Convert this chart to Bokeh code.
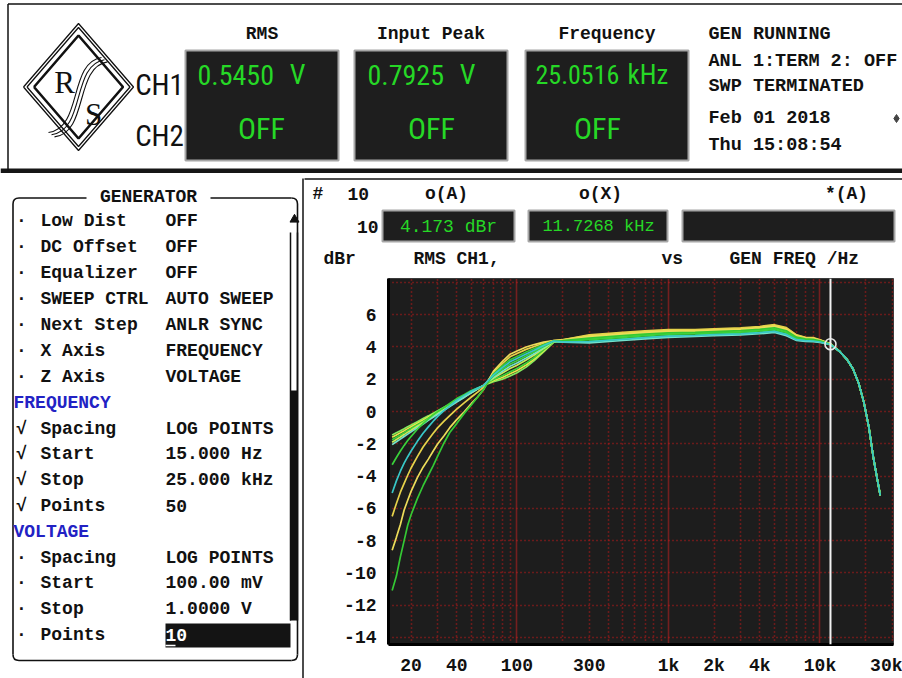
from bokeh.plotting import figure
from bokeh.models import Range1d, FixedTicker, Grid, Span
from bokeh.layouts import column, row
from bokeh.embed import file_html
from bokeh.resources import INLINE
from bokeh.core.properties import value

FREQ_HZ = [15, 16, 17, 18, 19, 20, 22, 24, 26, 28, 30, 33, 36, 40, 45, 50, 55, 60,
           70, 80, 90, 100, 115, 130, 150, 175,
           200, 300, 500, 700, 1000, 1500, 2000, 3000, 4000, 5000, 6000, 7000, 8000, 9000, 10000, 11700,
           13500, 15000, 16500, 18000, 19500, 21000, 22500, 24000, 25000]

TRACE_A = [-1.45, -1.31, -1.19, -1.07, -0.94, -0.84, -0.63, -0.44, -0.27, -0.10, 0.05, 0.26, 0.45, 0.69, 0.95, 1.20, 1.42, 1.62,
           1.85, 2.00, 2.20, 2.40, 2.75, 3.15, 3.70, 4.30,
           4.38, 4.50, 4.65, 4.75, 4.84, 4.86, 4.91, 4.97, 5.05, 5.14, 4.95, 4.58, 4.48, 4.46, 4.37, 4.18,
           3.72, 3.25, 2.65, 1.75, 0.55, -0.95, -2.85, -4.30, -5.20]
TRACE_B = [-1.60, -1.45, -1.32, -1.19, -1.06, -0.94, -0.73, -0.53, -0.34, -0.17, -0.01, 0.21, 0.41, 0.66, 0.94, 1.19, 1.41, 1.61,
           1.92, 2.11, 2.34, 2.54, 2.88, 3.25, 3.76, 4.31,
           4.44, 4.70, 4.85, 4.95, 5.02, 5.03, 5.08, 5.14, 5.23, 5.33, 5.15, 4.72, 4.58, 4.56, 4.43, 4.20,
           3.72, 3.25, 2.65, 1.75, 0.55, -0.95, -2.85, -4.30, -5.20]
TRACE_C = [-1.75, -1.59, -1.45, -1.31, -1.17, -1.05, -0.82, -0.61, -0.41, -0.23, -0.06, 0.17, 0.38, 0.64, 0.92, 1.18, 1.41, 1.62,
           1.98, 2.22, 2.47, 2.67, 3.00, 3.35, 3.82, 4.32,
           4.33, 4.35, 4.50, 4.60, 4.69, 4.73, 4.78, 4.84, 4.91, 5.00, 4.80, 4.47, 4.40, 4.38, 4.31, 4.16,
           3.72, 3.25, 2.65, 1.75, 0.55, -0.95, -2.85, -4.30, -5.20]
TRACE_D = [-1.90, -1.73, -1.58, -1.43, -1.28, -1.16, -0.91, -0.69, -0.48, -0.29, -0.11, 0.13, 0.35, 0.62, 0.90, 1.17, 1.41, 1.62,
           2.08, 2.39, 2.67, 2.87, 3.19, 3.50, 3.91, 4.34,
           4.41, 4.60, 4.75, 4.85, 4.93, 4.94, 4.99, 5.05, 5.14, 5.24, 5.05, 4.65, 4.53, 4.51, 4.40, 4.19,
           3.72, 3.25, 2.65, 1.75, 0.55, -0.95, -2.85, -4.30, -5.20]
TRACE_E = [-2.05, -1.87, -1.71, -1.55, -1.40, -1.26, -1.01, -0.78, -0.55, -0.36, -0.17, 0.08, 0.31, 0.59, 0.89, 1.16, 1.40, 1.62,
           2.14, 2.50, 2.81, 3.01, 3.31, 3.60, 3.97, 4.35,
           4.30, 4.25, 4.40, 4.50, 4.60, 4.65, 4.70, 4.75, 4.82, 4.90, 4.70, 4.40, 4.35, 4.33, 4.28, 4.15,
           3.72, 3.25, 2.65, 1.75, 0.55, -0.95, -2.85, -4.30, -5.20]
TRACE_F = [-3.30, -2.85, -2.45, -2.10, -1.80, -1.55, -1.10, -0.75, -0.45, -0.20, 0.00, 0.25, 0.50, 0.80, 1.05, 1.30, 1.45, 1.60,
           2.21, 2.61, 2.94, 3.14, 3.44, 3.70, 4.03, 4.36,
           4.36, 4.45, 4.60, 4.70, 4.79, 4.82, 4.87, 4.92, 5.00, 5.09, 4.90, 4.54, 4.45, 4.43, 4.35, 4.17,
           3.72, 3.25, 2.65, 1.75, 0.55, -0.95, -2.85, -4.30, -5.20]
TRACE_G = [-5.05, -4.30, -3.70, -3.20, -2.80, -2.45, -1.85, -1.35, -0.95, -0.60, -0.30, 0.05, 0.35, 0.70, 1.00, 1.25, 1.45, 1.60,
           2.27, 2.72, 3.08, 3.28, 3.56, 3.80, 4.09, 4.37,
           4.32, 4.33, 4.48, 4.58, 4.67, 4.71, 4.76, 4.81, 4.89, 4.97, 4.78, 4.45, 4.39, 4.37, 4.31, 4.17,
           3.72, 3.25, 2.65, 1.75, 0.55, -0.95, -2.85, -4.30, -5.20]
TRACE_H = [-6.50, -5.70, -5.00, -4.45, -3.95, -3.50, -2.80, -2.20, -1.75, -1.35, -1.00, -0.60, -0.25, 0.15, 0.55, 0.90, 1.20, 1.50,
           2.42, 2.97, 3.39, 3.59, 3.85, 4.03, 4.23, 4.39,
           4.45, 4.75, 4.90, 5.00, 5.07, 5.07, 5.12, 5.18, 5.27, 5.38, 5.20, 4.75, 4.60, 4.58, 4.45, 4.20,
           3.72, 3.25, 2.65, 1.75, 0.55, -0.95, -2.85, -4.30, -5.20]
TRACE_I = [-8.60, -7.80, -7.00, -6.10, -5.50, -4.95, -4.10, -3.45, -2.95, -2.45, -2.00, -1.50, -1.00, -0.50, 0.00, 0.50, 0.90, 1.35,
           2.50, 3.10, 3.55, 3.75, 4.00, 4.15, 4.30, 4.40,
           4.42, 4.65, 4.80, 4.90, 4.98, 4.99, 5.04, 5.09, 5.18, 5.28, 5.10, 4.68, 4.55, 4.53, 4.42, 4.19,
           3.72, 3.25, 2.65, 1.75, 0.55, -0.95, -2.85, -4.30, -5.20]
TRACE_J = [-11.10, -10.20, -9.00, -8.00, -7.05, -6.40, -5.40, -4.60, -3.95, -3.35, -2.75, -1.95, -1.30, -0.75, -0.10, 0.40, 0.90, 1.35,
           2.34, 2.83, 3.21, 3.41, 3.69, 3.90, 4.15, 4.38,
           4.39, 4.55, 4.70, 4.80, 4.88, 4.90, 4.95, 5.01, 5.09, 5.19, 5.00, 4.61, 4.50, 4.48, 4.38, 4.18,
           3.72, 3.25, 2.65, 1.75, 0.55, -0.95, -2.85, -4.30, -5.20]

CURSOR_FREQ = 11726.8
CURSOR_LEVEL = 4.173

X_TICKS = [20, 40, 100, 300, 1000, 2000, 4000, 10000, 30000]
X_LABELS = ["20", "40", "100", "300", "1k", "2k", "4k", "10k", "30k"]
X_GRID_MINOR = [20, 30, 40, 50, 60, 70, 80, 90, 200, 300, 400, 500, 600, 700, 800, 900,
                2000, 3000, 4000, 5000, 6000, 7000, 8000, 9000, 20000, 30000]
X_GRID_MAJOR = [100, 1000, 10000]
Y_TICKS = [-14, -12, -10, -8, -6, -4, -2, 0, 2, 4, 6]
Y_LABELS = ["-14", "-12", "-10", "-8", "-6", "-4", "-2", "0", "2", "4", "6"]
Y_GRID = [-14, -12, -10, -8, -6, -4, -2, 0, 2, 4, 6, 8]

MENU_MARKS = ["·", "·", "·", "·", "·", "·", "·", "", "√", "√", "√", "√", "", "·", "·", "·", "·"]
MENU_LABELS = ["Low Dist", "DC Offset", "Equalizer", "SWEEP CTRL", "Next Step", "X Axis", "Z Axis",
               "FREQUENCY", "Spacing", "Start", "Stop", "Points",
               "VOLTAGE", "Spacing", "Start", "Stop", "Points"]
MENU_VALUES = ["OFF", "OFF", "OFF", "AUTO SWEEP", "ANLR SYNC", "FREQUENCY", "VOLTAGE",
               "", "LOG POINTS", "15.000 Hz", "25.000 kHz", "50",
               "", "LOG POINTS", "100.00 mV", "1.0000 V", "10"]

STATUS_LINES = ["GEN RUNNING", "ANL 1:TERM 2: OFF", "SWP TERMINATED", "Feb 01 2018", "Thu 15:08:54"]

# ---------------- styles ----------------
MONO = "Liberation Mono"
NARROW = ("'Liberation Sans Narrow', 'Arial Narrow', 'Roboto Condensed', 'Open Sans Condensed', "
          "'Noto Sans Condensed', 'DejaVu Sans Condensed', 'DejaVu Sans Mono'")
SERIF = "Liberation Serif"
GREEN = "#26d826"
BLUE = "#2222c4"
INK = "#111111"
BOX_FILL = "#1e1e1e"
PLOT_BG = "#1d1d1d"
GRID_RED = "#b81a1a"

TRACES = [TRACE_A, TRACE_B, TRACE_C, TRACE_D, TRACE_E, TRACE_F, TRACE_H, TRACE_I, TRACE_J, TRACE_G]
TRACE_COLORS = ["#84ea5c", "#e8e64a", "#3ad23a", "#c8ee58", "#74e2cc", "#3ad23a",
                "#e6d24a", "#ecdc5a", "#34c834", "#38c8c8"]


def tx(fig, x, y, s, size=18, color=INK, align="left", font=MONO, style="bold"):
    fig.text(x=[x], y=[y], text=[s], text_font=value(font), text_font_size=f"{size}px",
             text_color=color, text_align=align, text_baseline="middle", text_font_style=style)


def panel(width, height, x0, x1, y_top, y_bottom):
    f = figure(width=width, height=height, x_range=Range1d(x0, x1), y_range=Range1d(y_bottom, y_top),
               output_backend="svg", toolbar_location=None, x_axis_location=None, y_axis_location=None,
               min_border=0, outline_line_color=None, background_fill_color="white",
               border_fill_color="white", frame_align=False)
    f.grid.visible = False
    return f


# ================= header (screen y 0..175) =================
hdr = panel(902, 175, 0, 902, 0, 175)
hdr.quad(left=0, right=902, top=168, bottom=172.5, fill_color="#161616", line_color=None)
hdr.segment(x0=[7.5, 7.5], y0=[3.5, 3.5], x1=[7.5, 902], y1=[170, 3.5], line_color=INK, line_width=1.5)

# R&S logo
for dx, dy, lw in [(0, 0, 1.3), (3.5, 4, 1.3), (10.5, 12, 2.6)]:
    hdr.line(x=[23 + dx, 78, 133 - dx, 78, 23 + dx], y=[86.5, 23 + dy, 86.5, 150 - dy, 86.5],
             line_color=INK, line_width=lw)
for k in range(3):
    ox, oy = 3.0 * k, 2.2 * k
    hdr.bezier(x0=[48 + ox], y0=[132 + oy], x1=[101 + ox], y1=[57 + oy],
               cx0=[82 + ox], cy0=[128 + oy], cx1=[68 + ox], cy1=[62 + oy],
               line_color=INK, line_width=1.1)
tx(hdr, 64, 82, "R", 31, INK, "center", SERIF, "normal")
tx(hdr, 93, 114, "S", 31, INK, "center", SERIF, "normal")

tx(hdr, 159, 84, "CH1", 29, INK, "center", NARROW, "normal")
tx(hdr, 159, 135, "CH2", 29, INK, "center", NARROW, "normal")

for (l, r), title in zip([(185, 338), (354, 507), (525, 688)], ["RMS", "Input Peak", "Frequency"]):
    hdr.quad(left=l, right=r, top=50, bottom=160, fill_color=BOX_FILL, line_color="#a6a6a6", line_width=2)
    tx(hdr, (l + r) / 2, 33, title, 18, INK, "center")

tx(hdr, 197, 74, "0.5450", 28, GREEN, "left", NARROW, "normal")
tx(hdr, 297, 74, "V", 28, GREEN, "center", NARROW, "normal")
tx(hdr, 367, 74, "0.7925", 28, GREEN, "left", NARROW, "normal")
tx(hdr, 467, 74, "V", 28, GREEN, "center", NARROW, "normal")
tx(hdr, 535, 74, "25.0516", 26, GREEN, "left", NARROW, "normal")
tx(hdr, 627, 74, "kHz", 27, GREEN, "left", NARROW, "normal")
for cx in [261, 431, 597]:
    tx(hdr, cx, 128, "OFF", 30, GREEN, "center", NARROW, "normal")

for s, yy in zip(STATUS_LINES, [34, 61, 86, 118, 145]):
    tx(hdr, 708, yy, s, 18.5, INK, "left")
hdr.scatter(x=[896], y=[118], marker="diamond", size=8, fill_color="#444444", line_color="#444444")

# ================= generator menu (screen x 0..304, y 175..678) =================
menu = panel(304, 503, 0, 304, 175, 678)
menu.segment(x0=[12.5, 297, 18.5, 18.5, 210], y0=[203.5, 203.5, 660, 197.5, 197.5],
             x1=[12.5, 297, 291, 86, 291], y1=[654, 654, 660, 197.5, 197.5],
             line_color=INK, line_width=1.6)
menu.quadratic(x0=[12.5, 291, 12.5, 291], y0=[203.5, 197.5, 654, 660],
               x1=[18.5, 297, 18.5, 297], y1=[197.5, 203.5, 660, 654],
               cx=[12.5, 297, 12.5, 297], cy=[197.5, 197.5, 660, 660],
               line_color=INK, line_width=1.6)
tx(menu, 148, 196, "GENERATOR", 18, INK, "center")
menu.scatter(x=[294], y=[219], marker="triangle", size=9, fill_color=INK, line_color=INK)
menu.segment(x0=[290, 297], y0=[232, 232], x1=[290, 297], y1=[620, 620], line_color=INK, line_width=1.5)
menu.quad(left=289.5, right=297.5, top=390, bottom=620, fill_color=INK, line_color=None)
menu.segment(x0=[302.5], y0=[178], x1=[302.5], y1=[678], line_color=INK, line_width=1.5)

menu_y = [220, 246, 272, 298, 324, 350, 376, 402, 428, 453, 479, 505, 531, 557, 582, 608, 634]
for mark, lab, val, yy in zip(MENU_MARKS, MENU_LABELS, MENU_VALUES, menu_y):
    if mark == "":
        tx(menu, 13, yy, lab, 18, BLUE, "left")
        continue
    tx(menu, 21, yy, mark, 18, INK, "center")
    tx(menu, 40, yy, lab, 18, INK, "left")
    if lab == "Points" and val == "10":
        menu.quad(left=165, right=290, top=623, bottom=647, fill_color="#141414", line_color=None)
        menu.segment(x0=[165], y0=[645], x1=[175], y1=[645], line_color="white", line_width=1.5)
        tx(menu, 165, yy, val, 18, "white", "left")
    else:
        tx(menu, 165, yy, val, 18, INK, "left")

# ================= chart header (screen x 304..902, y 175..278) =================
chead = panel(598, 103, 304, 902, 175, 278)
chead.segment(x0=[302], y0=[178.5], x1=[902], y1=[178.5], line_color=INK, line_width=1.5)
tx(chead, 312, 193, "#", 18, INK, "left")
tx(chead, 347, 193, "10", 18, INK, "left")
tx(chead, 446, 193, "o(A)", 18, INK, "center")
tx(chead, 600, 193, "o(X)", 18, INK, "center")
tx(chead, 846, 193, "*(A)", 18, INK, "center")
tx(chead, 378, 226, "10", 18, INK, "right")
for l, r in [(382, 514), (528, 667), (682, 894)]:
    chead.quad(left=l, right=r, top=210, bottom=241, fill_color=BOX_FILL, line_color="#a6a6a6", line_width=2)
tx(chead, 448, 226, "4.173 dBr", 18, GREEN, "center", MONO, "normal")
tx(chead, 598, 226, "11.7268 kHz", 17, GREEN, "center", MONO, "normal")
tx(chead, 323, 258, "dBr", 18, INK, "left")
tx(chead, 413, 258, "RMS", 18, INK, "left")
tx(chead, 456, 258, "CH1,", 18, INK, "left")
tx(chead, 661, 258, "vs", 18, INK, "left")
tx(chead, 729, 258, "GEN FREQ /Hz", 18, INK, "left")

# ================= the frequency-response chart (screen x 304..902, y 278..678) =================
chart = figure(width=598, height=400, x_axis_type="log",
               x_range=Range1d(14.19, 30560), y_range=Range1d(-14.44, 8.244),
               output_backend="svg", toolbar_location=None, frame_align=False,
               min_border_left=84, min_border_right=9, min_border_top=0, min_border_bottom=28,
               background_fill_color=PLOT_BG, border_fill_color="white",
               outline_line_color="#3a3a3a", outline_line_width=1)

chart.xgrid.ticker = FixedTicker(ticks=X_GRID_MINOR)
chart.xgrid.grid_line_color = GRID_RED
chart.xgrid.grid_line_dash = "1 3"
chart.xgrid.grid_line_width = 1.6
chart.ygrid.ticker = FixedTicker(ticks=Y_GRID)
chart.ygrid.grid_line_color = GRID_RED
chart.ygrid.grid_line_dash = "1 3"
chart.ygrid.grid_line_width = 1.6
chart.add_layout(Grid(dimension=0, ticker=FixedTicker(ticks=X_GRID_MAJOR),
                      grid_line_color="#cc2222", grid_line_dash="1 1", grid_line_width=1.6))

for levels, col in zip(TRACES, TRACE_COLORS):
    chart.line(x=FREQ_HZ, y=levels, line_color=col, line_width=1.7)

chart.add_layout(Span(location=CURSOR_FREQ, dimension="height", line_color="#f2f2f2", line_width=2))
chart.scatter(x=[CURSOR_FREQ], y=[CURSOR_LEVEL], marker="circle", size=11, fill_color=None,
              line_color="#e6e6e6", line_width=1.6)

for ax in (chart.xaxis[0], chart.yaxis[0]):
    ax.axis_line_color = "black"
    ax.axis_line_width = 3
    ax.major_tick_line_color = None
    ax.minor_tick_line_color = None
    ax.major_label_text_font = MONO
    ax.major_label_text_font_style = "bold"
    ax.major_label_text_color = INK

chart.xaxis.ticker = FixedTicker(ticks=X_TICKS)
chart.xaxis.major_label_overrides = {t: s for t, s in zip(X_TICKS, X_LABELS)}
chart.xaxis.major_label_text_font_size = "18px"
chart.xaxis.major_label_standoff = 5
chart.yaxis.ticker = FixedTicker(ticks=Y_TICKS)
chart.yaxis.major_label_overrides = {t: s for t, s in zip(Y_TICKS, Y_LABELS)}
chart.yaxis.major_label_text_font_size = "18px"
chart.yaxis.major_label_standoff = 6

layout = column(hdr, row(menu, column(chead, chart)))

with open("out.html", "w") as fh:
    fh.write(file_html(layout, INLINE))
